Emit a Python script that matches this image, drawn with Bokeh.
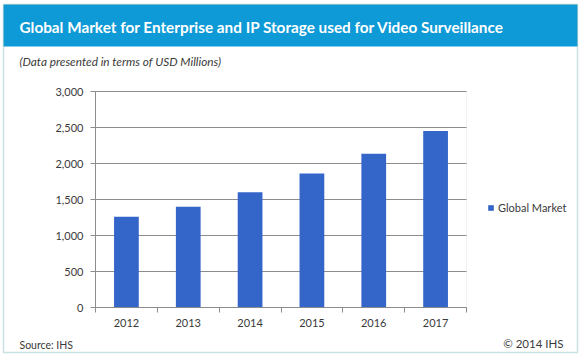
from bokeh.plotting import figure
from bokeh.models import (Range1d, FixedTicker, NumeralTickFormatter, Label,
                          BoxAnnotation, Legend, LegendItem, ColumnDataSource,
                          LinearAxis)
from bokeh.embed import file_html
from bokeh.resources import INLINE

# ---- data ----
years = ["2012", "2013", "2014", "2015", "2016", "2017"]
market = [1260, 1400, 1600, 1860, 2135, 2450]
y_ticks = [0, 500, 1000, 1500, 2000, 2500, 3000]
title_text = "Global Market for Enterprise and IP Storage used for Video Surveillance"
subtitle_text = "(Data presented in terms of USD Millions)"
series_name = "Global Market"
source_text = "Source: IHS"
copyright_text = "\u00a9 2014 IHS"

W, H = 582, 355
FL, FR, FT, FB = 95, 466, 91, 307   # plot-area edges in canvas pixels
YMAX = y_ticks[-1]
NCAT = len(years)

# ranges chosen so that the whole canvas is the frame and the plot area sits at FL..FR / FT..FB
ux = NCAT / (FR - FL)
uy = YMAX / (FB - FT)
x_range = Range1d(-FL * ux, NCAT + (W - FR) * ux)
y_range = Range1d(-(H - FB) * uy, YMAX + FT * uy)

xpos = [i + 0.5 for i in range(NCAT)]
src = ColumnDataSource(dict(x=xpos, v=market, year=years))

p = figure(width=W, height=H, output_backend="svg", toolbar_location=None,
           x_range=x_range, y_range=y_range, x_axis_type=None, y_axis_type=None,
           min_border=0, background_fill_color="white", border_fill_color="white")
p.outline_line_color = None
p.title.visible = False
p.grid.visible = False

font = "Lato"
txt = "#3a3a3a"
axc = "#8c8c8c"

# plot-area box (light border)
p.add_layout(BoxAnnotation(left=0, right=NCAT, bottom=0, top=YMAX,
                           fill_alpha=0, line_color="#d6d6d6", line_width=1,
                           level="underlay"))

# horizontal gridlines at the y ticks
p.segment(x0=[0] * len(y_ticks), x1=[NCAT] * len(y_ticks), y0=y_ticks, y1=y_ticks,
          line_color=axc, line_width=1)

# y axis
yax = LinearAxis(fixed_location=0, bounds=(0, YMAX))
yax.ticker = FixedTicker(ticks=y_ticks)
yax.formatter = NumeralTickFormatter(format="0,0")
yax.axis_line_color = axc
yax.major_tick_line_color = axc
yax.major_tick_out = 5
yax.major_tick_in = 0
yax.minor_tick_line_color = None
yax.major_label_standoff = 7
yax.major_label_text_font = font
yax.major_label_text_font_size = "11px"
yax.major_label_text_color = txt
p.add_layout(yax, "left")

# x axis: labels at centres, ticks at boundaries
xax = LinearAxis(fixed_location=0, bounds=(0, NCAT))
xax.ticker = FixedTicker(ticks=xpos, minor_ticks=list(range(NCAT + 1)))
xax.major_label_overrides = {x: y for x, y in zip(xpos, years)}
xax.axis_line_color = axc
xax.major_tick_line_color = None
xax.major_tick_out = 0
xax.major_tick_in = 0
xax.minor_tick_line_color = axc
xax.minor_tick_out = 5
xax.minor_tick_in = 0
xax.major_label_standoff = 6
xax.major_label_text_font = font
xax.major_label_text_font_size = "11px"
xax.major_label_text_color = txt
p.add_layout(xax, "below")

bars = p.vbar(x="x", top="v", width=0.4, source=src,
              fill_color="#3465c9", line_color=None)

legend = Legend(items=[LegendItem(label=series_name, renderers=[bars])],
                location=(487, H - 213.5), orientation="vertical",
                glyph_width=7, glyph_height=7, label_height=10, label_width=10,
                label_standoff=4, padding=0, margin=0, spacing=0,
                border_line_color=None, background_fill_alpha=0,
                label_text_font=font, label_text_font_size="11px",
                label_text_color=txt)
p.add_layout(legend)

def sy(cy):
    return H - cy

# title bar
p.add_layout(BoxAnnotation(left=3, right=577, top=sy(4), bottom=sy(46),
                           left_units="screen", right_units="screen",
                           top_units="screen", bottom_units="screen",
                           fill_color="#0d9ad6", fill_alpha=1, line_color=None))
# outer border
p.add_layout(BoxAnnotation(left=3, right=577, top=sy(4), bottom=sy(352),
                           left_units="screen", right_units="screen",
                           top_units="screen", bottom_units="screen",
                           fill_alpha=0, line_color="#4f9da2", line_width=1.5))

p.add_layout(Label(x=19, y=sy(26.5), x_units="screen", y_units="screen",
                   text=title_text, text_font=font, text_font_style="bold",
                   text_font_size="15.3px", text_color="white",
                   text_baseline="middle"))
p.add_layout(Label(x=19, y=sy(61), x_units="screen", y_units="screen",
                   text=subtitle_text, text_font=font, text_font_style="italic",
                   text_font_size="11.8px", text_color=txt,
                   text_baseline="middle"))
p.add_layout(Label(x=19, y=sy(344), x_units="screen", y_units="screen",
                   text=source_text, text_font=font,
                   text_font_size="10.5px", text_color=txt,
                   text_baseline="middle"))
p.add_layout(Label(x=563, y=sy(342.5), x_units="screen", y_units="screen",
                   text=copyright_text, text_font=font, text_align="right",
                   text_font_size="11.5px", text_color=txt,
                   text_baseline="middle"))

open("out.html", "w").write(file_html(p, INLINE))
